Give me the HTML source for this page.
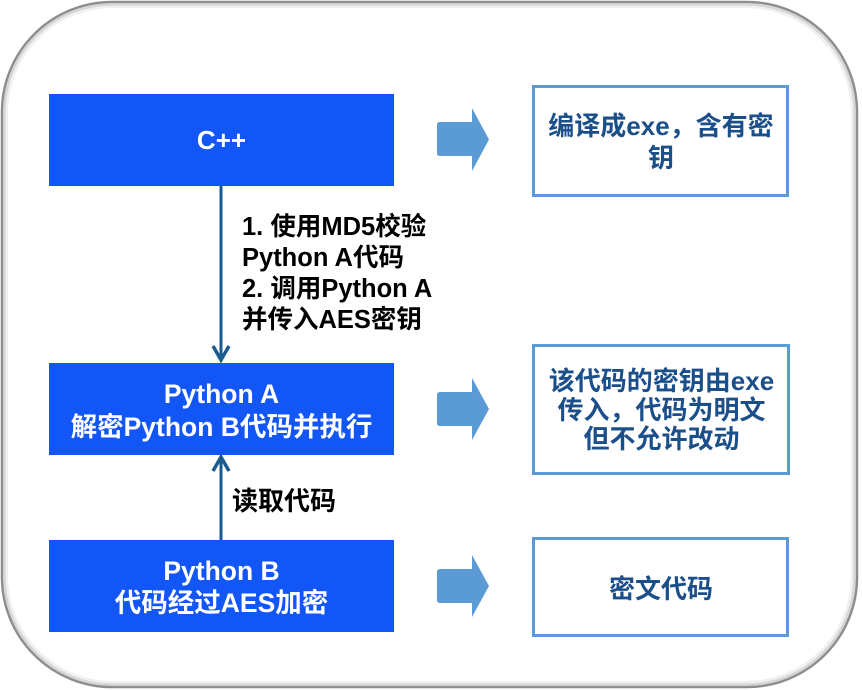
<!DOCTYPE html>
<html>
<head>
<meta charset="utf-8">
<style>
  html, body { margin:0; padding:0; background:#ffffff; }
  body { width:862px; height:690px; position:relative; overflow:hidden; }
  svg { position:absolute; left:0; top:0; }
  .t { position:absolute; white-space:nowrap; font-weight:bold;
       font-family:"Liberation Sans","Noto Sans CJK SC",sans-serif; }
  .box { position:absolute; display:flex; flex-direction:column; align-items:center; justify-content:center; text-align:center; color:#ffffff; font-weight:bold; font-family:"Liberation Sans","Noto Sans CJK SC",sans-serif; white-space:nowrap; }
  .rbox { position:absolute; display:flex; flex-direction:column; align-items:center; justify-content:center; text-align:center; color:#1b4f8a; font-weight:bold; font-family:"Liberation Sans","Noto Sans CJK SC",sans-serif; white-space:nowrap; font-size:26px; }
</style>
</head>
<body>
<svg width="862" height="690" viewBox="0 0 862 690">
  <!-- outer rounded frame -->
  <rect x="2" y="2" width="855" height="685" rx="110" ry="110" fill="#ffffff" stroke="#8e8e8e" stroke-width="2.5"/>
  <rect x="4.5" y="4.5" width="850" height="680" rx="108" ry="108" fill="none" stroke="#d6d6d6" stroke-width="2.5"/>
  <rect x="7" y="7" width="845" height="675" rx="106" ry="106" fill="none" stroke="#efefef" stroke-width="2"/>

  <!-- blue boxes -->
  <rect x="49" y="94" width="345" height="92" fill="#1356f6"/>
  <rect x="49" y="363" width="345" height="92" fill="#1356f6"/>
  <rect x="49" y="540" width="345" height="92" fill="#1356f6"/>

  <!-- connector C++ -> Python A -->
  <line x1="221" y1="186" x2="221" y2="358" stroke="#1d5a8e" stroke-width="3"/>
  <polyline points="213,346 221,360 229,346" fill="none" stroke="#1d5a8e" stroke-width="3.5"/>

  <!-- connector Python B -> Python A -->
  <line x1="221" y1="540" x2="221" y2="459" stroke="#1d5a8e" stroke-width="3"/>
  <polyline points="213,471 221,457 229,471" fill="none" stroke="#1d5a8e" stroke-width="3.5"/>

  <!-- block arrows -->
  <path d="M437,125 Q437,122 440,122 L472,122 L472,108 L489,139.5 L472,171 L472,156 L440,156 Q437,156 437,153 Z" fill="#5b9bd5"/>
  <path d="M437,395 Q437,392 440,392 L472,392 L472,378 L489,409 L472,440 L472,426 L440,426 Q437,426 437,423 Z" fill="#5b9bd5"/>
  <path d="M437,572 Q437,569 440,569 L472,569 L472,555 L489,586 L472,617 L472,603 L440,603 Q437,603 437,600 Z" fill="#5b9bd5"/>

  <!-- right outline boxes -->
  <rect x="533.5" y="86.5" width="254" height="109" fill="#ffffff" stroke="#5b9bd5" stroke-width="3"/>
  <rect x="533.5" y="345.5" width="255" height="128" fill="#ffffff" stroke="#5b9bd5" stroke-width="3"/>
  <rect x="533.5" y="538.5" width="254" height="97" fill="#ffffff" stroke="#5b9bd5" stroke-width="3"/>
</svg>

<!-- blue box texts -->
<div class="box" style="left:49px;top:94px;width:345px;height:92px;font-size:26px;">C++</div>
<div class="box" style="left:49px;top:363px;width:345px;height:92px;font-size:26.5px;line-height:33px;padding-top:4px;box-sizing:border-box;">
  <div>Python A</div>
  <div>解密Python B代码并执行</div>
</div>
<div class="box" style="left:49px;top:540px;width:345px;height:92px;font-size:26.5px;line-height:32px;padding-top:2px;box-sizing:border-box;">
  <div>Python B</div>
  <div>代码经过AES加密</div>
</div>

<!-- connector labels -->
<div class="t" style="left:242px;top:212px;font-size:25.5px;line-height:31px;color:#000;">
  <div>1. 使用MD5校验</div>
  <div>Python A代码</div>
  <div>2. 调用Python A</div>
  <div>并传入AES密钥</div>
</div>
<div class="t" style="left:232px;top:486px;font-size:26px;line-height:31px;color:#000;">读取代码</div>

<!-- right box texts -->
<div class="rbox" style="left:533px;top:86px;width:256px;height:111px;line-height:32px;">
  <div>编译成exe，含有密</div>
  <div>钥</div>
</div>
<div class="rbox" style="left:533px;top:345px;width:257px;height:130px;line-height:29px;">
  <div>该代码的密钥由exe</div>
  <div>传入，代码为明文</div>
  <div>但不允许改动</div>
</div>
<div class="rbox" style="left:533px;top:538px;width:256px;height:99px;">
  <div>密文代码</div>
</div>
</body>
</html>
